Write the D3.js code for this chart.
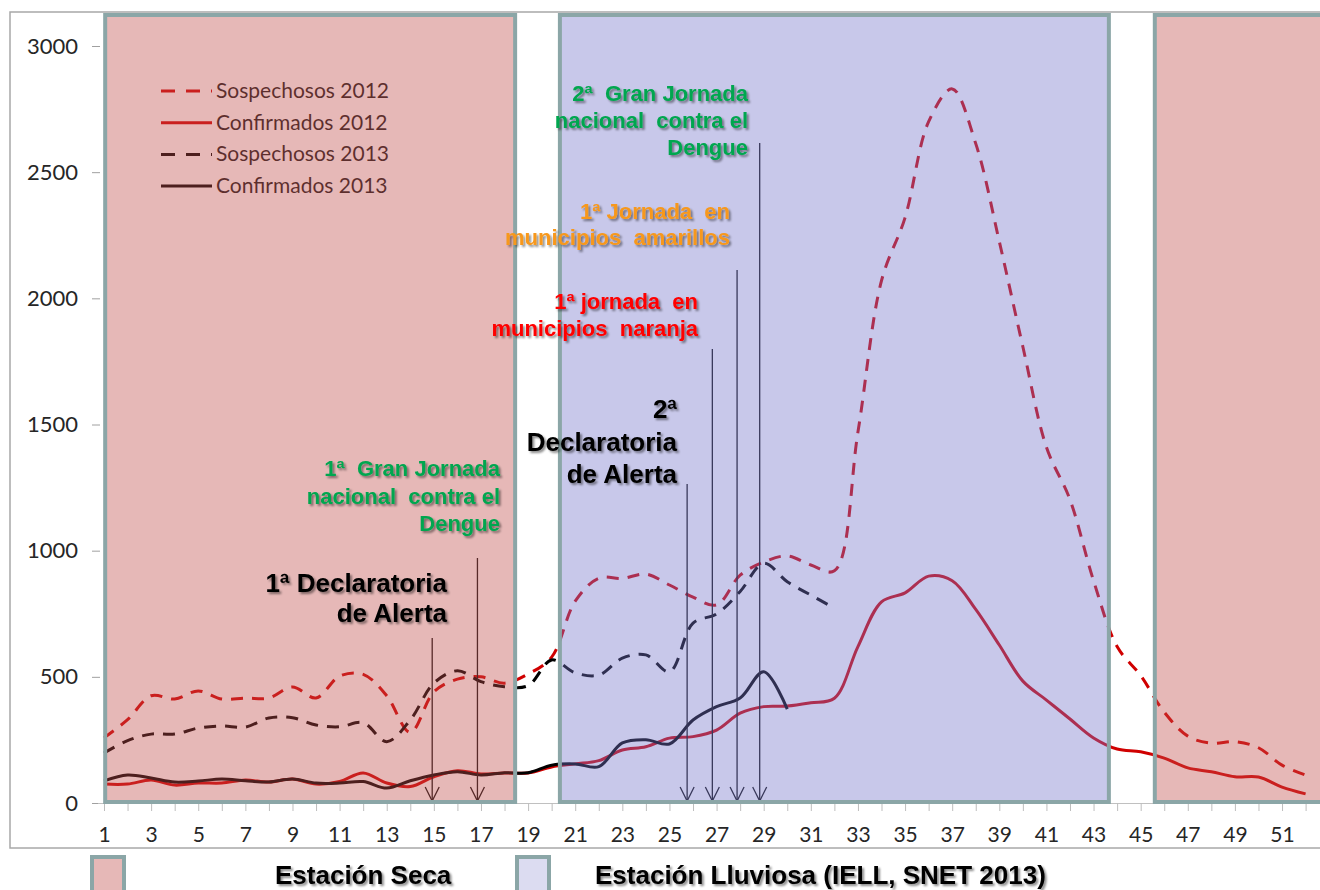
<!DOCTYPE html>
<html><head><meta charset="utf-8">
<script src="https://cdn.jsdelivr.net/npm/d3@7"></script>
<style>body{margin:0;background:#fff;} svg{display:block;}</style>
</head><body>
<svg id="chart" width="1320" height="890"></svg>
<script>
// ---------- DATA ----------
const weeks = [1,2,3,4,5,6,7,8,9,10,11,12,13,14,15,16,17,18,19,20,21,22,23,24,25,26,
  27,28,29,30,31,32,33,34,35,36,37,38,39,40,41,42,43,44,45,46,47,48,49,50,51,52];
const xTickLabels = [1,3,5,7,9,11,13,15,17,19,21,23,25,27,29,31,33,35,37,39,41,43,45,47,49,51];
const yTicks = [0,500,1000,1500,2000,2500,3000];

const sospechosos2012 = [258,330,425,412,444,412,416,416,460,416,503,510,425,280,440,491,500,475,511,578,
  800,891,890,907,864,816,785,903,955,979,943,920,1470,2070,2320,2700,2830,2613,2225,1808,1410,1202,881,
  620,505,360,265,237,243,219,150,111];
const confirmados2012 = [75,75,91,71,79,79,91,83,95,75,85,119,79,65,104,128,115,119,119,143,
  155,168,210,223,257,263,289,356,382,384,397,415,620,797,833,899,881,767,626,483,408,333,258,
  214,203,178,139,124,104,103,63,36];
const sospechosos2013 = [198,247,273,273,297,305,301,337,338,309,302,318,243,329,475,524,481,461,465,567,
  516,507,574,587,520,713,749,838,950,877,824,772];
const confirmados2013 = [88,111,99,83,87,95,88,83,95,79,79,85,59,88,111,124,111,120,120,150,
  155,144,238,251,234,329,382,416,520,372];

const seriesNames = ["Sospechosos 2012","Confirmados 2012","Sospechosos 2013","Confirmados 2013"];
const seasonNames = ["Estación Seca","Estación Lluviosa (IELL, SNET 2013)"];
const seasonSpans = [[1.05,18.45],[20.35,43.65],[45.6,53.8]];   // in weeks
const seasonKinds = [0,1,0];                                     // index into seasonNames
const eventWeeks = [14.93,16.85,25.75,26.82,27.87,28.83];
const eventTops  = [654,971,1264,1799,2112,2616];               // in case counts

// ---------- STYLE / LAYOUT ----------
const RED = "#d00000", BLK = "#000000";
const seriesStyle = [
  {data: sospechosos2012, color: RED, dash: "12,9"},
  {data: confirmados2012, color: RED, dash: null},
  {data: sospechosos2013, color: BLK, dash: "12,9"},
  {data: confirmados2013, color: BLK, dash: null}
];
const overlayFill = ["rgb(192,77,75)","rgb(117,117,202)"];
const legendSwatchFill = ["#e6b8b7","#dcdcf1"];
const edge = "#8ba6a7";

const svg = d3.select("#chart");
const defs = svg.append("defs");
const f = defs.append("filter").attr("id","sh").attr("x","-10%").attr("y","-30%").attr("width","130%").attr("height","180%");
f.append("feDropShadow").attr("dx",2).attr("dy",2).attr("stdDeviation",1.1)
  .attr("flood-color","#000").attr("flood-opacity",0.45);

const x = d3.scaleLinear().domain([1,52]).range([104,1305.6]);
const y = d3.scaleLinear().domain([0,3000]).range([803,46]);
const boxTop = 15;

// outer chart border
svg.append("rect").attr("x",10).attr("y",12).attr("width",1340).attr("height",836)
  .attr("fill","none").attr("stroke","#a8a8a8").attr("stroke-width",1.5);

// axes
const yAx = svg.append("g").attr("transform","translate(100,0)")
  .call(d3.axisLeft(y).tickValues(yTicks).tickSize(8).tickPadding(14).tickFormat(d3.format("d")));
yAx.select(".domain").remove();
yAx.selectAll("line").attr("stroke","#a0a0a0");
yAx.selectAll("text").attr("font-family","Lato, 'Open Sans', sans-serif").attr("font-size",22).attr("fill","#262626");

const xAx = svg.append("g").attr("transform",`translate(0,${y(0)})`)
  .call(d3.axisBottom(x).tickValues(weeks).tickSize(8).tickPadding(16)
    .tickFormat(d => xTickLabels.includes(d) ? d : ""));
xAx.select(".domain").attr("stroke","#c0c0c0").attr("d",`M98,0.5H1320`);
xAx.selectAll("line").attr("stroke","#bdbdbd");
xAx.selectAll("text").attr("font-family","Lato, 'Open Sans', sans-serif").attr("font-size",21).attr("fill","#262626");

// legend (top-left, under overlay)
const lg = svg.append("g");
seriesStyle.forEach((s,i) => {
  const cy = 91 + i*31.7;
  lg.append("line").attr("x1",161).attr("x2",212).attr("y1",cy).attr("y2",cy)
    .attr("stroke",s.color).attr("stroke-width",3)
    .attr("stroke-dasharray", s.dash ? "14,11" : null);
  lg.append("text").attr("x",216).attr("y",cy+7).text(seriesNames[i])
    .attr("font-family","Lato, 'Open Sans', sans-serif").attr("font-size",21).attr("fill","#1a1a1a");
});

// series lines
const line = d3.line().x((d,i)=>x(weeks[i])).y(d=>y(d)).curve(d3.curveCatmullRom.alpha(0.5));
seriesStyle.forEach(s => {
  svg.append("path").datum(s.data).attr("d",line).attr("fill","none")
    .attr("stroke",s.color).attr("stroke-width",3)
    .attr("stroke-dasharray",s.dash).attr("stroke-linejoin","round");
});

// event arrows
const ag = svg.append("g").attr("stroke","#111").attr("stroke-width",1.3).attr("fill","none");
eventWeeks.forEach((w,i) => {
  const xx = x(w), yb = y(8);
  ag.append("line").attr("x1",xx).attr("x2",xx).attr("y1",y(eventTops[i])).attr("y2",yb);
  ag.append("path").attr("d",`M${xx-7},${yb-14}L${xx},${yb}L${xx+7},${yb-14}`);
});

// season overlays
seasonSpans.forEach((sp,i) => {
  const k = seasonKinds[i];
  svg.append("rect").attr("x",x(sp[0])).attr("y",boxTop)
    .attr("width",x(sp[1])-x(sp[0])).attr("height",y(0)-1-boxTop)
    .attr("fill",overlayFill[k]).attr("fill-opacity",0.4)
    .attr("stroke",edge).attr("stroke-width",4);
});

// annotations
const annotations = [
  {lines:["1ª Declaratoria","de Alerta"], x:447, y:[592,622], color:"#000", size:26},
  {lines:["1ª  Gran Jornada","nacional  contra el","Dengue"], x:500, y:[476,504,531], color:"#00a64f", size:22},
  {lines:["2ª","Declaratoria","de Alerta"], x:677, y:[418,451,483], color:"#000", size:26},
  {lines:["1ª jornada  en","municipios  naranja"], x:698, y:[309,336], color:"#ff0000", size:22},
  {lines:["1ª Jornada  en","municipios  amarillos"], x:730, y:[219,245], color:"#f7981d", size:22},
  {lines:["2ª  Gran Jornada","nacional  contra el","Dengue"], x:748, y:[101,128,155], color:"#00a64f", size:22}
];
annotations.forEach(a => {
  a.lines.forEach((t,j) => {
    svg.append("text").attr("x",a.x).attr("y",a.y[j]).attr("text-anchor","end")
      .attr("font-family","'Liberation Sans', Arial, sans-serif").attr("font-weight","bold")
      .attr("font-size",a.size).attr("fill",a.color).attr("filter","url(#sh)")
      .style("white-space","pre").text(t);
  });
});

// bottom legend
const bl = [{sx:92, tx:275, k:0},{sx:517, tx:595, k:1}];
bl.forEach(b => {
  svg.append("rect").attr("x",b.sx).attr("y",857).attr("width",32).attr("height",40)
    .attr("fill",legendSwatchFill[b.k]).attr("stroke",edge).attr("stroke-width",4);
  svg.append("text").attr("x",b.tx).attr("y",884).text(seasonNames[b.k])
    .attr("font-family","'Liberation Sans', Arial, sans-serif").attr("font-weight","bold")
    .attr("font-size",26).attr("fill","#000").attr("filter","url(#sh)");
});
</script>
</body></html>
